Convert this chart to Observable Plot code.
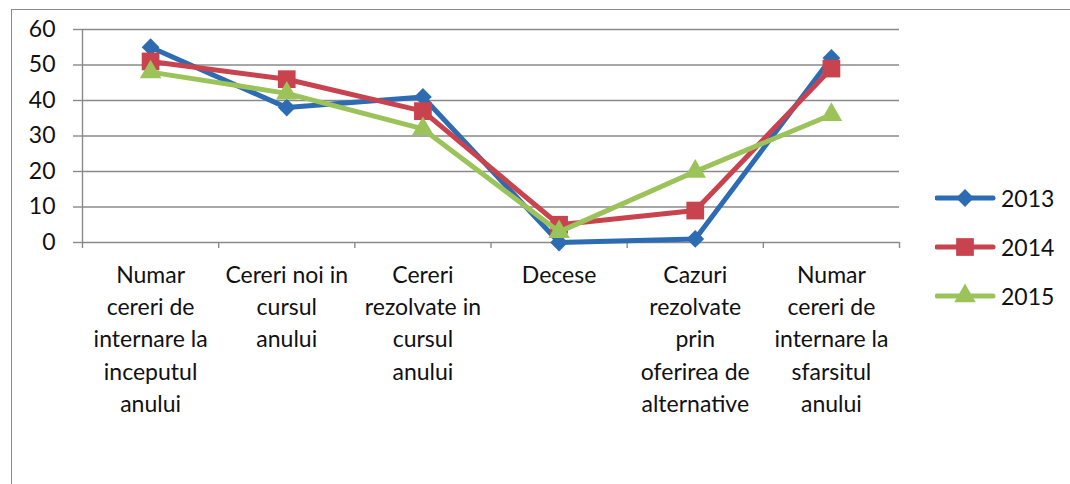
<!DOCTYPE html>
<html><head><meta charset="utf-8">
<script src="https://cdn.jsdelivr.net/npm/d3@7"></script>
<script src="https://cdn.jsdelivr.net/npm/@observablehq/plot@0.6"></script>
<style>
body{margin:0;background:#fff;}
#wrap{position:relative;width:1070px;height:484px;overflow:hidden;font-family:Lato, "Open Sans", sans-serif;background:#fff;}
#frame{position:absolute;left:11px;top:9px;width:1100px;height:520px;border:1.5px solid #8a8a8a;}
#chart{position:absolute;left:0;top:0;}
#legend{position:absolute;left:935px;top:173px;}
.item{display:flex;align-items:center;height:49px;font-size:23px;color:#111;}
.item svg{margin-right:4px;}
</style></head>
<body><div id="wrap"><div id="frame"></div><div id="chart"></div><div id="legend"></div></div>
<script>
const categories = [
  "Numar\ncereri de\ninternare la\ninceputul\nanului",
  "Cereri noi in\ncursul\nanului",
  "Cereri\nrezolvate in\ncursul\nanului",
  "Decese",
  "Cazuri\nrezolvate\nprin\noferirea de\nalternative",
  "Numar\ncereri de\ninternare la\nsfarsitul\nanului"
];
const years = ["2013", "2014", "2015"];
const values2013 = [55, 38, 41, 0, 1, 52];
const values2014 = [51, 46, 37, 5, 9, 49];
const values2015 = [48, 42, 32, 3, 20, 36];
const yTicks = [0, 10, 20, 30, 40, 50, 60];

const colors = ["#2D6CB2", "#C9434F", "#9CC35A"];
const symbols = ["diamond2", "square", "triangle"];
const radii = [8, 10, 8];

const seriesValues = [values2013, values2014, values2015];
const data = [];
years.forEach((yr, s) => seriesValues[s].forEach((v, i) => data.push({year: yr, cat: i + 0.5, value: v})));

const gray = "#8a8a8a";
const marks = [
  Plot.gridY(yTicks, {stroke: gray, strokeOpacity: 1, strokeWidth: 1.4}),
  Plot.ruleX([0], {stroke: gray, strokeWidth: 1.4}),
  Plot.axisY(yTicks, {tickSize: 9, tickPadding: 18, fontSize: 23, stroke: gray, strokeWidth: 1.4, fill: "#111"}),
  Plot.axisX(d3.range(categories.length + 1), {tickSize: 6, tickFormat: () => "", stroke: gray, strokeWidth: 1.4}),
  Plot.axisX(categories.map((c, i) => i + 0.5), {tickSize: 0, tickPadding: 17, fontSize: 23, lineHeight: 1.41, fill: "#111", tickFormat: (d) => categories[Math.floor(d)]})
];
years.forEach((yr, s) => {
  const sd = data.filter(d => d.year === yr);
  marks.push(Plot.line(sd, {x: "cat", y: "value", stroke: colors[s], strokeWidth: 5, strokeLinejoin: "round"}));
  marks.push(Plot.dot(sd, {x: "cat", y: "value", fill: colors[s], stroke: "none", symbol: symbols[s], r: radii[s]}));
});

const chart = Plot.plot({
  width: 1070,
  height: 484,
  marginLeft: 82,
  marginRight: 171,
  marginTop: 29,
  marginBottom: 242,
  style: {fontFamily: "Lato, 'Open Sans', sans-serif", background: "transparent", overflow: "visible"},
  x: {type: "linear", domain: [0, categories.length], axis: null, label: null},
  y: {domain: [0, 60], axis: null, label: null},
  marks
});
document.getElementById("chart").appendChild(chart);

const legend = document.getElementById("legend");
years.forEach((yr, s) => {
  const item = document.createElement("div");
  item.className = "item";
  const sym = d3.symbol(s === 0 ? d3.symbolDiamond2 : s === 1 ? d3.symbolSquare : d3.symbolTriangle, Math.PI * radii[s] * radii[s])();
  item.innerHTML = `<svg width="62" height="30"><line x1="2" x2="58" y1="15" y2="15" stroke="${colors[s]}" stroke-width="5" stroke-linecap="round"/><path transform="translate(30,15)" d="${sym}" fill="${colors[s]}"/></svg><span>${yr}</span>`;
  legend.appendChild(item);
});
</script>
</body></html>
